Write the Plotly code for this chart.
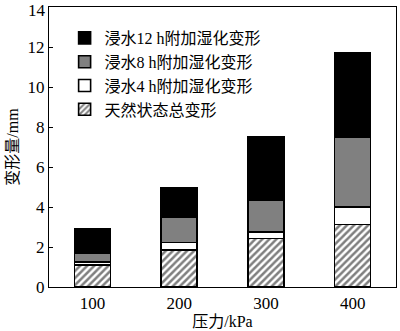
import plotly.graph_objects as go

categories = ["100", "200", "300", "400"]
natural = [1.09, 1.84, 2.42, 3.12]
wet4h = [0.15, 0.38, 0.33, 0.88]
wet8h = [0.47, 1.28, 1.59, 3.48]
wet12h = [1.18, 1.44, 3.16, 4.22]
names = ["天然状态总变形", "浸水4 h附加湿化变形", "浸水8 h附加湿化变形", "浸水12 h附加湿化变形"]
yticks = [0, 2, 4, 6, 8, 10, 12, 14]

FONT = "Liberation Serif, Times New Roman, Noto Sans CJK SC"

fig = go.Figure()
line = dict(color="black", width=1.6)
fig.add_bar(x=categories, y=natural, name=names[0],
            marker=dict(color="white", line=line,
                        pattern=dict(shape="/", fgcolor="black", bgcolor="white", size=5, solidity=0.5)))
fig.add_bar(x=categories, y=wet4h, name=names[1], marker=dict(color="white", line=line))
fig.add_bar(x=categories, y=wet8h, name=names[2], marker=dict(color="#808080", line=line))
fig.add_bar(x=categories, y=wet12h, name=names[3], marker=dict(color="black", line=line))

fig.update_layout(
    barmode="stack", bargap=0.585,
    width=400, height=331,
    margin=dict(l=49, r=4, t=7, b=44, autoexpand=False),
    paper_bgcolor="white", plot_bgcolor="white",
    font=dict(family=FONT, size=17, color="black"),
    showlegend=True,
    legend=dict(x=0.045, y=0.95, xanchor="left", yanchor="top",
                traceorder="reversed", bgcolor="rgba(0,0,0,0)",
                font=dict(size=16), tracegroupgap=0, itemwidth=30),
)
fig.update_xaxes(showline=True, linecolor="black", linewidth=1.2, mirror=True,
                 ticks="", title=dict(text="压力/kPa", standoff=4, font=dict(size=16)))
fig.update_yaxes(range=[0, 14], tickvals=yticks[:-1],
                 showline=True, linecolor="black",
                 linewidth=1.2, mirror=True, ticks="inside", ticklen=4,
                 tickcolor="black", showgrid=False, zeroline=False,
                 title=dict(text="变形量/mm", standoff=4, font=dict(size=16)))
# top tick label (plotly drops it because it overflows the page top)
fig.add_annotation(x=0, xref="paper", y=yticks[-1], yref="y", text=str(yticks[-1]),
                   showarrow=False, xanchor="right", yanchor="top", xshift=-2, yshift=7,
                   borderpad=0, font=dict(size=17, family=FONT, color="black"))

fig.write_html("out.html")
